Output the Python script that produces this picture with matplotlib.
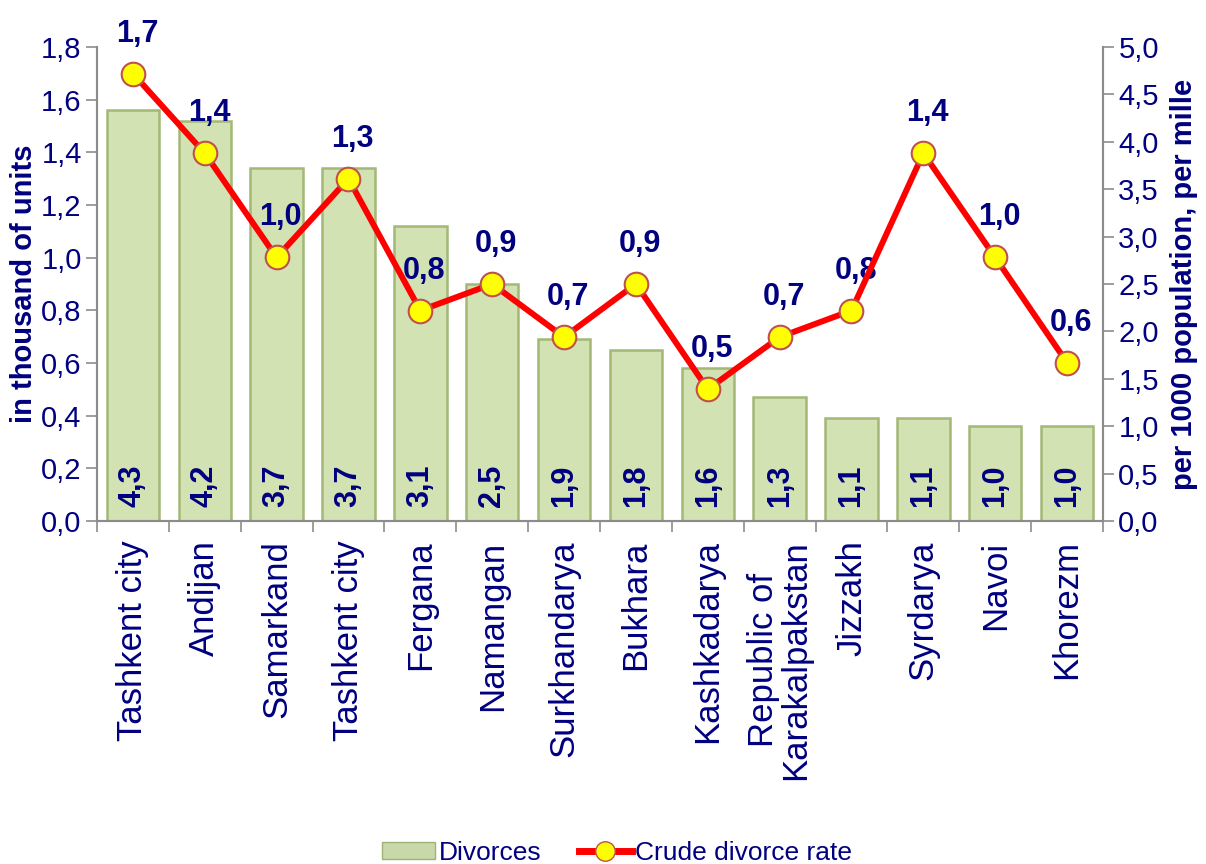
import numpy as np
import matplotlib
matplotlib.use('Agg')
import matplotlib.pyplot as plt
from matplotlib.ticker import FuncFormatter, MultipleLocator, FixedLocator
from matplotlib.patches import Patch
from matplotlib.lines import Line2D

plt.rcParams['font.family'] = ['Liberation Sans', 'DejaVu Sans']

regions = ['Tashkent city', 'Andijan', 'Samarkand', 'Tashkent city', 'Fergana',
           'Namangan', 'Surkhandarya', 'Bukhara', 'Kashkadarya',
           'Republic of\nKarakalpakstan', 'Jizzakh', 'Syrdarya', 'Navoi', 'Khorezm']
divorces = [1.56, 1.52, 1.34, 1.34, 1.12, 0.90, 0.69, 0.65, 0.58, 0.47, 0.39, 0.39, 0.36, 0.36]
rate = [4.72, 3.88, 2.78, 3.61, 2.22, 2.50, 1.94, 2.50, 1.39, 1.94, 2.22, 3.88, 2.78, 1.67]
bar_labels = ['4,3', '4,2', '3,7', '3,7', '3,1', '2,5', '1,9', '1,8', '1,6', '1,3', '1,1', '1,1', '1,0', '1,0']
line_labels = ['1,7', '1,4', '1,0', '1,3', '0,8', '0,9', '0,7', '0,9', '0,5', '0,7', '0,8', '1,4', '1,0', '0,6']

navy = '#000080'
grey = '#8c8c8c'
comma = FuncFormatter(lambda v, p: f'{v:.1f}'.replace('.', ','))

fig = plt.figure(figsize=(12.06, 8.64), dpi=100)
ax = fig.add_axes([0.0804, 0.397, 0.8342, 0.5486])
ax2 = ax.twinx()

x = np.arange(len(regions))
ax.bar(x, divorces, width=0.73, color='#d3e2b2', edgecolor='#a3b877', linewidth=1.8, zorder=2)
for xi, lab in zip(x, bar_labels):
    ax.annotate(lab, (xi, 0), xytext=(0, 10), textcoords='offset points', rotation=90,
                ha='center', va='bottom', fontsize=22, fontweight='bold', color=navy, zorder=3)

ax.set_xlim(-0.5, len(regions) - 0.5)
ax.set_ylim(0, 1.8)
ax.yaxis.set_major_locator(MultipleLocator(0.2))
ax.yaxis.set_major_formatter(comma)
ax.set_xticks(x)
ax.set_xticklabels(regions, rotation=90, fontsize=25, color=navy, linespacing=0.95)
ax.xaxis.set_minor_locator(FixedLocator(np.arange(-0.5, len(regions), 1.0)))
ax.tick_params(axis='x', which='major', length=0, pad=14)
ax.tick_params(axis='x', which='minor', length=8, color=grey, width=1.2)
ax.tick_params(axis='y', labelsize=21, labelcolor=navy, color=grey, length=8, width=1.2, pad=3)
ax.set_ylabel('in thousand of units', fontsize=21, fontweight='bold', color=navy, labelpad=2)

ax2.plot(x, rate, color='#ff0000', linewidth=4.3, marker='o', markersize=17,
         markerfacecolor='#ffff00', markeredgecolor='#c0504d', markeredgewidth=1.5, zorder=4)
for xi, yi, lab in zip(x, rate, line_labels):
    ax2.annotate(lab, (xi, yi), xytext=(3, 18), textcoords='offset points',
                 ha='center', va='bottom', fontsize=22, fontweight='bold', color=navy)
ax2.set_ylim(0, 5)
ax2.yaxis.set_major_locator(MultipleLocator(0.5))
ax2.yaxis.set_major_formatter(comma)
ax2.tick_params(axis='y', labelsize=21, labelcolor=navy, color=grey, length=8, width=1.2, pad=3)
ax2.set_ylabel('per 1000 population, per mille', fontsize=21, fontweight='bold', color=navy, labelpad=8)

for a in (ax, ax2):
    a.spines['top'].set_visible(False)
    for s in ('left', 'right', 'bottom'):
        a.spines[s].set_color(grey)
        a.spines[s].set_linewidth(1.5)

handles = [Patch(facecolor='#c9d8a8', edgecolor='#9fb276', label='Divorces'),
           Line2D([], [], color='#ff0000', linewidth=5, marker='o', markersize=14,
                  markerfacecolor='#ffff00', markeredgecolor='#c0504d', label='Crude divorce rate')]
fig.legend(handles=handles, loc='center', bbox_to_anchor=(0.512, 0.013), ncol=2, frameon=False,
           fontsize=19, labelcolor=navy, handlelength=2.0, handleheight=0.6,
           handletextpad=0.15, columnspacing=1.4)

fig.savefig('out.png', dpi=100)
